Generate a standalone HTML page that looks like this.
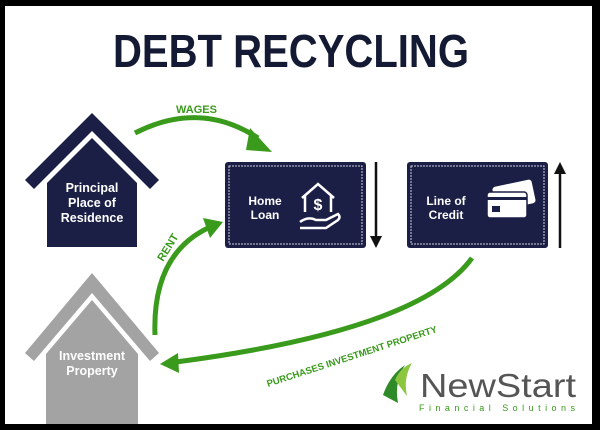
<!DOCTYPE html>
<html><head><meta charset="utf-8"><style>
html,body{margin:0;padding:0;background:#000;}
svg{display:block;}
</style></head><body>
<svg width="600" height="430" viewBox="0 0 600 430" xmlns="http://www.w3.org/2000/svg" font-family="Liberation Sans, sans-serif">
<rect x="0" y="0" width="600" height="430" fill="#000"/>
<rect x="5" y="6" width="587" height="418" fill="#fff"/>
<text x="291" y="67" text-anchor="middle" font-size="46" font-weight="bold" fill="#141a33" textLength="356" lengthAdjust="spacingAndGlyphs">DEBT RECYCLING</text>

<!-- PPR house -->
<polygon points="25,180 92,113 159,180 150,189 92,131 34,189" fill="#1b1f45"/>
<polygon points="47,183 92,138 137,183 137,247 47,247" fill="#1b1f45"/>
<g fill="#fff" font-size="12.5" font-weight="bold" text-anchor="middle">
<text x="92" y="192">Principal</text><text x="92" y="207">Place of</text><text x="92" y="222">Residence</text></g>

<!-- Investment house -->
<polygon points="25,353 92,273 159,353 150,361 92,293 34,361" fill="#a3a3a3"/>
<polygon points="46,354 92,300 138,354 138,424 46,424" fill="#a3a3a3"/>
<g fill="#fff" font-size="12.5" font-weight="bold" text-anchor="middle">
<text x="92" y="360">Investment</text><text x="92" y="375">Property</text></g>

<!-- boxes -->
<rect x="225" y="162" width="141" height="86" rx="3" fill="#1b1f45"/>
<rect x="229" y="166" width="133" height="78" fill="none" stroke="#cfd0dc" stroke-width="1" stroke-dasharray="2,1"/>
<g fill="#fff" font-size="12" font-weight="bold" text-anchor="middle"><text x="265" y="205">Home</text><text x="265" y="219">Loan</text></g>
<g fill="none" stroke="#fff" stroke-width="2.5">
<polyline points="302,198 318,184 334,198"/><line x1="305" y1="196" x2="305" y2="212"/><line x1="331" y1="196" x2="331" y2="212"/>
<path d="M300,222 q8,-6 16,-2 l10,0 l12,-6 q3,3 0,6 l-12,8 l-26,0"/>
</g>
<text x="318" y="210" fill="#fff" font-size="16" font-weight="bold" text-anchor="middle">$</text>
<line x1="376" y1="162" x2="376" y2="238" stroke="#111" stroke-width="2.5"/><polygon points="370,236 382,236 376,248" fill="#111"/>

<rect x="407" y="162" width="141" height="86" rx="3" fill="#1b1f45"/>
<rect x="411" y="166" width="133" height="78" fill="none" stroke="#cfd0dc" stroke-width="1" stroke-dasharray="2,1"/>
<g fill="#fff" font-size="12" font-weight="bold" text-anchor="middle"><text x="446" y="205">Line of</text><text x="446" y="219">Credit</text></g>
<rect x="494" y="183" width="40" height="24" rx="3" fill="#fff" transform="rotate(-12 514 195)"/>
<rect x="487" y="192" width="40" height="26" rx="3" fill="#fff" stroke="#1b1f45" stroke-width="1.5"/>
<rect x="487" y="197" width="40" height="3" fill="#1b1f45"/>
<rect x="492" y="206" width="8" height="6" fill="#1b1f45"/>
<line x1="560" y1="172" x2="560" y2="248" stroke="#111" stroke-width="2.5"/><polygon points="554,174 566,174 560,162" fill="#111"/>

<!-- green arrows -->
<g stroke="#3a9a1c" stroke-width="5" fill="none">
<path d="M135,133 Q200,100 258,138"/>
<path d="M155,335 Q152,255 208,228"/>
<path d="M472,258 Q420,330 176,362"/>
</g>
<g fill="#3a9a1c">
<polygon points="250,128 272,152 246,150"/>
<polygon points="203,218 223,222 210,238"/>
<polygon points="178,353 160,364 179,373"/>
</g>
<g fill="#3a9a1c" font-size="11" font-weight="bold">
<text x="176" y="113">WAGES</text>
<text x="163" y="262" transform="rotate(-58 163 262)">RENT</text>
<text x="268" y="387" font-size="9.5" transform="rotate(-18 268 387)">PURCHASES INVESTMENT PROPERTY</text>
</g>

<!-- logo -->
<path d="M383,395 Q390,375 405,365 Q394,382 398,403 Z" fill="#2f8a2a"/>
<path d="M395,380 Q400,368 412,363 Q403,378 407,396 Z" fill="#8cc63f"/>
<text x="420" y="397" font-size="33" fill="#555" textLength="156" lengthAdjust="spacingAndGlyphs">NewStart</text>
<text x="419" y="411" font-size="9" fill="#3a9a1c" textLength="156" lengthAdjust="spacing">Financial Solutions</text>
</svg>
</body></html>
